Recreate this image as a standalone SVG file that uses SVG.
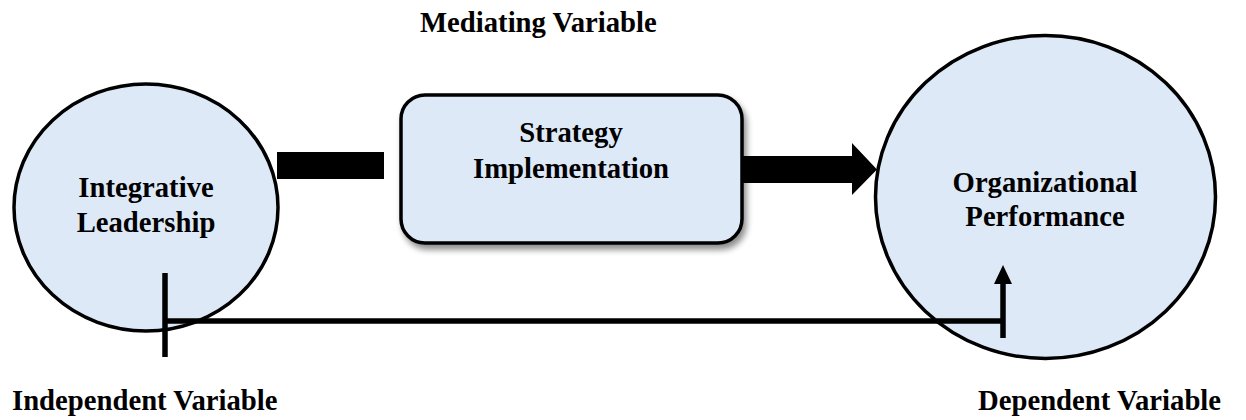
<svg xmlns="http://www.w3.org/2000/svg" width="1246" height="420" viewBox="0 0 1246 420">
<defs>
<style>
.t{font-family:"Liberation Serif","Times New Roman",serif;font-weight:bold;font-size:28.7px;fill:#000}
.c{text-anchor:middle}
.node{fill:#dde9f6;stroke:#000;stroke-width:3.5}
.ln{stroke:#000;stroke-width:5.5;fill:none}
</style>
<filter id="sh" x="-10%" y="-10%" width="130%" height="140%">
<feGaussianBlur in="SourceAlpha" stdDeviation="3"/>
<feOffset dx="3" dy="5" result="b"/>
<feComponentTransfer><feFuncA type="linear" slope="0.45"/></feComponentTransfer>
<feMerge><feMergeNode/><feMergeNode in="SourceGraphic"/></feMerge>
</filter>
</defs>
<rect width="1246" height="420" fill="#fff"/>
<text class="t" x="420" y="32">Mediating Variable</text>
<g id="integrative-leadership">
<ellipse class="node" cx="146" cy="207.5" rx="132" ry="123.5"/>
<text class="t c" x="146" y="197">Integrative</text>
<text class="t c" x="146" y="232">Leadership</text>
</g>
<g id="strategy-implementation">
<rect class="node" x="401" y="95" width="341" height="148" rx="24" filter="url(#sh)"/>
<text class="t c" x="571" y="142">Strategy</text>
<text class="t c" x="571" y="178">Implementation</text>
</g>
<g id="organizational-performance">
<ellipse class="node" cx="1045.5" cy="197" rx="170" ry="161.5"/>
<text class="t c" x="1045" y="192">Organizational</text>
<text class="t c" x="1045" y="226">Performance</text>
</g>
<g id="connectors">
<rect x="277" y="152" width="107" height="27" fill="#000"/>
<polygon points="743,156 852,156 852,143 877,169.5 852,195 852,183 743,183" fill="#000"/>
<line class="ln" x1="165" y1="273" x2="165" y2="357"/>
<line class="ln" x1="165" y1="321" x2="1003" y2="321"/>
<line class="ln" x1="1003" y1="338" x2="1003" y2="282"/>
<polygon points="994,284 1003,265 1012,284" fill="#000"/>
</g>
<text class="t" x="12" y="410">Independent Variable</text>
<text class="t" x="978" y="410">Dependent Variable</text>
</svg>
